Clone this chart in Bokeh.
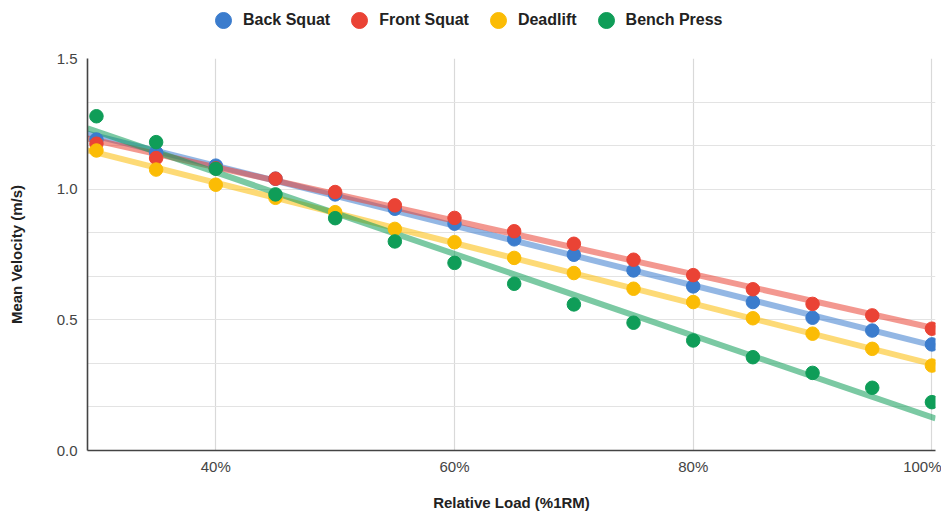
import numpy as np
from bokeh.plotting import figure
from bokeh.layouts import column
from bokeh.models import Range1d, FixedTicker, PrintfTickFormatter, Legend, LegendItem, ColumnDataSource
from bokeh.embed import file_html
from bokeh.resources import INLINE

loads = [30, 35, 40, 45, 50, 55, 60, 65, 70, 75, 80, 85, 90, 95, 100]
back_squat = [1.19, 1.14, 1.09, 1.04, 0.98, 0.925, 0.868, 0.808, 0.749, 0.689, 0.628, 0.568, 0.508, 0.459, 0.406]
front_squat = [1.174, 1.119, 1.08, 1.04, 0.989, 0.938, 0.89, 0.839, 0.791, 0.73, 0.671, 0.617, 0.561, 0.517, 0.466]
deadlift = [1.148, 1.075, 1.017, 0.967, 0.912, 0.848, 0.797, 0.737, 0.679, 0.619, 0.568, 0.506, 0.447, 0.389, 0.325]
bench_press = [1.279, 1.18, 1.078, 0.98, 0.889, 0.80, 0.718, 0.638, 0.559, 0.489, 0.421, 0.357, 0.297, 0.240, 0.185]

series_names = ["Back Squat", "Front Squat", "Deadlift", "Bench Press"]
series_values = [back_squat, front_squat, deadlift, bench_press]
colors = ["#3b7ccd", "#ea4335", "#fbbc05", "#0f9d58"]

x_ticks = [40, 60, 80, 100]
y_ticks = [0.0, 0.5, 1.0, 1.5]
y_grid = [i / 6 for i in range(10)]

X0, X1 = 29.25, 100.3

p = figure(frame_width=848, frame_height=392, output_backend="svg", toolbar_location=None,
           x_range=Range1d(X0, X1), y_range=Range1d(0, 1.5),
           min_border_left=87, min_border_right=6, min_border_top=8, min_border_bottom=58)
p.outline_line_color = None
p.background_fill_color = "white"

p.xaxis.ticker = FixedTicker(ticks=x_ticks)
p.xaxis.formatter = PrintfTickFormatter(format="%d%%")
p.yaxis.ticker = FixedTicker(ticks=y_ticks)
p.yaxis.formatter = PrintfTickFormatter(format="%.1f")
p.xgrid.ticker = FixedTicker(ticks=x_ticks)
p.ygrid.ticker = FixedTicker(ticks=y_grid)
p.xgrid.grid_line_color = "#d9d9d9"
p.ygrid.grid_line_color = "#e3e3e3"
p.xgrid.grid_line_width = 1.2
p.ygrid.grid_line_width = 1.2

for ax in (p.xaxis[0], p.yaxis[0]):
    ax.axis_line_color = "#444444"
    ax.axis_line_width = 1.6
    ax.major_tick_line_color = None
    ax.minor_tick_line_color = None
    ax.major_label_text_font = "Liberation Sans"
    ax.major_label_text_font_size = "15px"
    ax.major_label_text_color = "#444444"
    ax.axis_label_text_font = "Liberation Sans"
    ax.axis_label_text_font_size = "15px"
    ax.axis_label_text_font_style = "bold"
    ax.axis_label_text_color = "#222222"

p.xaxis.axis_label = "Relative Load (%1RM)"
p.yaxis.axis_label = "Mean Velocity (m/s)"
p.xaxis.major_label_standoff = 1
p.xaxis.axis_label_standoff = 16
p.yaxis.major_label_standoff = 4
p.yaxis.axis_label_standoff = 29

xs = np.array(loads, dtype=float)
# trend lines (least squares fit of each series)
for vals, c in zip(series_values, colors):
    slope, intercept = np.polyfit(xs, np.array(vals), 1)
    lx = [X0, X1]
    ly = [intercept + slope * X0, intercept + slope * X1]
    p.line(lx, ly, line_color=c, line_width=6, line_alpha=0.55)

for name, vals, c in zip(series_names, series_values, colors):
    src = ColumnDataSource(dict(x=loads, y=vals))
    p.scatter("x", "y", source=src, size=13.5, fill_color=c, line_color=c, marker="circle")

# legend strip above the chart (proxy glyphs lie outside its visible range)
lg = figure(frame_width=941, frame_height=50, output_backend="svg", toolbar_location=None,
            x_axis_location=None, y_axis_location=None,
            x_range=Range1d(0, 1), y_range=Range1d(0, 1),
            min_border_left=0, min_border_right=0, min_border_top=0, min_border_bottom=0)
lg.outline_line_color = None
lg.xgrid.visible = False
lg.ygrid.visible = False
items = []
for name, c in zip(series_names, colors):
    r = lg.scatter(x=[5], y=[5], fill_color=c, line_color=c, marker="circle")
    items.append(LegendItem(label=name, renderers=[r]))

legend = Legend(items=items, orientation="horizontal", location=(203, 10),
                label_text_font="Liberation Sans", label_text_font_size="16px",
                label_text_font_style="bold", label_text_color="#222222",
                glyph_width=40, glyph_height=40, label_standoff=0, spacing=9,
                border_line_color=None, background_fill_alpha=0, margin=0, padding=0)
lg.add_layout(legend, "center")

layout = column(lg, p, spacing=0)
open("out.html", "w").write(file_html(layout, INLINE))
